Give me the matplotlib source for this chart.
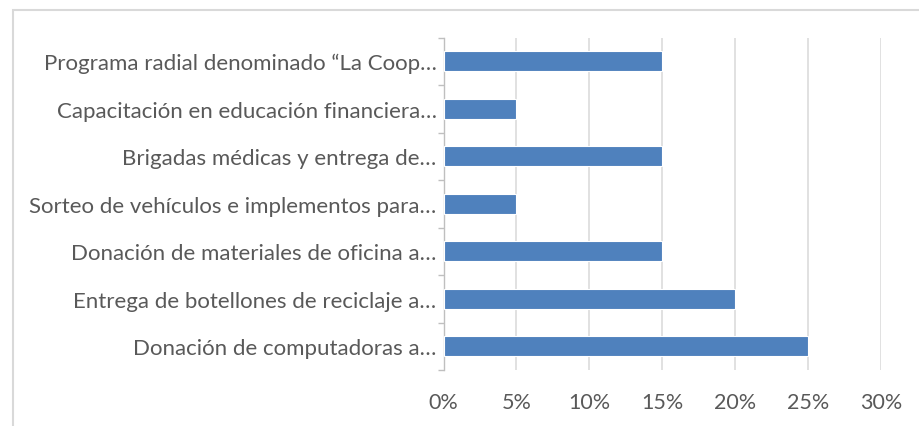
import matplotlib
matplotlib.use("Agg")
import matplotlib.pyplot as plt
from matplotlib.patches import Rectangle
from matplotlib.ticker import FuncFormatter
import numpy as np

categories = [
    "Donación de computadoras a…",
    "Entrega de botellones de reciclaje a…",
    "Donación de materiales de oficina a…",
    "Sorteo de vehículos e implementos para…",
    "Brigadas médicas y entrega de…",
    "Capacitación en educación financiera…",
    "Programa radial denominado “La Coop…",
]
values = [0.25, 0.20, 0.15, 0.05, 0.15, 0.05, 0.15]
xticks = [0, 0.05, 0.10, 0.15, 0.20, 0.25, 0.30]

text_color = "#595959"
bar_color = "#4f81bd"
grid_color = "#d9d9d9"

plt.rcParams["font.family"] = ["Lato", "DejaVu Sans"]

fig = plt.figure(figsize=(9.19, 4.27), dpi=100)
ax = fig.add_axes([0.4826, 0.1311, 0.9587 - 0.4826, 0.9098 - 0.1311])

# outer chart border (cut off at right and bottom like the source)
fig.patches.append(Rectangle((12.5 / 919, -0.1), 1.2, 1 - 10.5 / 427 + 0.1,
                             transform=fig.transFigure, fill=False,
                             edgecolor="#d9d9d9", linewidth=1.5))

y = np.arange(len(categories))
ax.barh(y, values, height=0.42, color=bar_color, edgecolor="white",
        linewidth=0.8, zorder=3)

ax.set_xlim(0, 0.30)
ax.set_ylim(-0.5, len(categories) - 0.5)
ax.set_xticks(xticks)
ax.xaxis.set_major_formatter(FuncFormatter(lambda v, p: f"{v * 100:.0f}%"))
ax.grid(axis="x", color=grid_color, linewidth=1.1, zorder=0)
ax.tick_params(axis="x", length=0, labelsize=15.5, colors=text_color, pad=16)

# category labels on minor ticks, tick marks at boundaries
ax.set_yticks(np.arange(-0.5, len(categories)), labels=[""] * (len(categories) + 1))
ax.set_yticks(y, labels=categories, minor=True)
ax.tick_params(axis="y", which="major", length=4, width=1, color="#bfbfbf", direction="out")
ax.tick_params(axis="y", which="minor", length=0, labelsize=16, colors=text_color, pad=5)

for s in ["top", "right", "bottom"]:
    ax.spines[s].set_visible(False)
ax.spines["left"].set_color("#bfbfbf")
ax.spines["left"].set_linewidth(1)

fig.savefig("out.png", dpi=100)
